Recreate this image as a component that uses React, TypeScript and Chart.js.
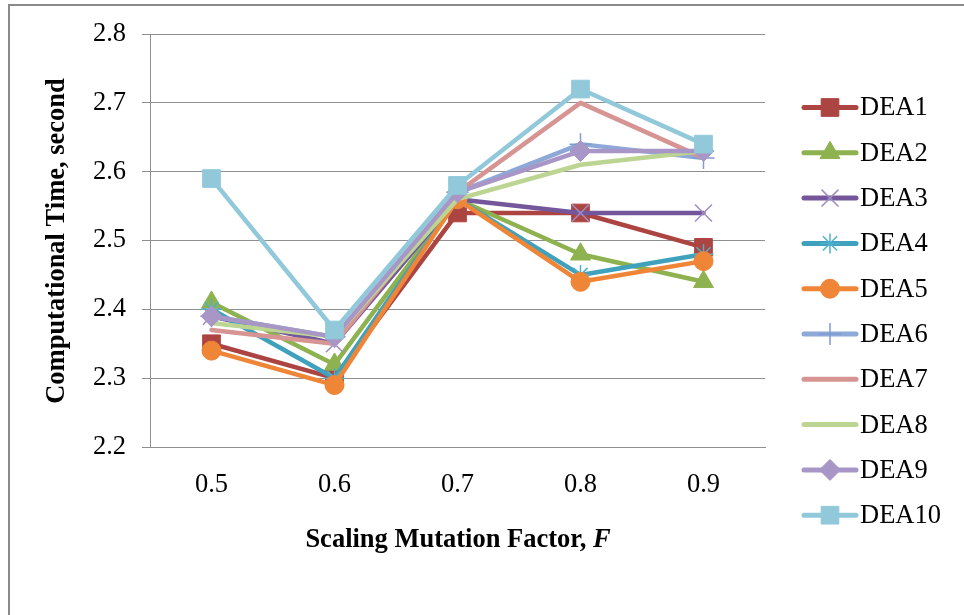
import React, { useEffect, useRef } from 'react';
import { Chart, registerables } from 'chart.js';
import { drawPoint } from 'chart.js/helpers';

Chart.register(...registerables);

// Scaling mutation factor F on the x axis
const factors = ['0.5', '0.6', '0.7', '0.8', '0.9'];

// Computational time (seconds) for each algorithm variant
const dea1 = [2.35, 2.30, 2.54, 2.54, 2.49];
const dea2 = [2.41, 2.32, 2.56, 2.48, 2.44];
const dea3 = [2.39, 2.35, 2.56, 2.54, 2.54];
const dea4 = [2.40, 2.30, 2.56, 2.45, 2.48];
const dea5 = [2.34, 2.29, 2.56, 2.44, 2.47];
const dea6 = [2.39, 2.36, 2.57, 2.64, 2.62];
const dea7 = [2.37, 2.35, 2.57, 2.70, 2.62];
const dea8 = [2.38, 2.36, 2.56, 2.61, 2.63];
const dea9 = [2.39, 2.36, 2.57, 2.63, 2.63];
const dea10 = [2.59, 2.37, 2.58, 2.72, 2.64];

const seriesNames = ['DEA1', 'DEA2', 'DEA3', 'DEA4', 'DEA5', 'DEA6', 'DEA7', 'DEA8', 'DEA9', 'DEA10'];
const seriesValues = [dea1, dea2, dea3, dea4, dea5, dea6, dea7, dea8, dea9, dea10];

// Y axis range and step
const yMin = 2.2;
const yMax = 2.8;
const yStep = 0.1;

const SERIF = "'Liberation Serif', 'Times New Roman', serif";

const lineColors = ['#AC4441', '#8DB24F', '#73579A', '#3FA1BC', '#EF8537', '#8EA9D8', '#D69493', '#BDD592', '#A897C6', '#91C9DB'];
const markerShapes: (string | false)[] = ['rect', 'triangle', 'crossRot', 'star', 'circle', 'cross', false, false, 'rectRot', 'rect'];
const markerRadii = [12.5, 11.5, 12, 10, 9.5, 11, 0, 0, 10.5, 12.5];
const markerStroke = ['#AC4441', '#8DB24F', '#A08CC4', '#4FB0CC', '#EF8537', '#7F9CD2', '#D69493', '#BDD592', '#A897C6', '#91C9DB'];
const thinMarker = [false, false, true, true, false, true, false, false, false, false];

const chartLeft = 150;
const chartRight = 765;
const chartTop = 34;
const chartBottom = 447;
const W = 964;
const H = 615;

const decorPlugin = {
  id: 'decor',
  beforeDraw(chart: any) {
    const ctx = chart.ctx;
    ctx.save();
    ctx.fillStyle = '#ffffff';
    ctx.fillRect(0, 0, W, H);
    // outer frame (top and left edges)
    ctx.strokeStyle = '#8a8a8a';
    ctx.lineWidth = 2;
    ctx.beginPath();
    ctx.moveTo(9, H);
    ctx.lineTo(9, 5);
    ctx.lineTo(W, 5);
    ctx.stroke();
    ctx.restore();
  },
  afterDraw(chart: any) {
    const ctx = chart.ctx;
    ctx.save();
    ctx.fillStyle = '#000000';

    // y axis title
    ctx.font = `bold 26.5px ${SERIF}`;
    ctx.textAlign = 'center';
    ctx.textBaseline = 'middle';
    ctx.save();
    ctx.translate(57, 241);
    ctx.rotate(-Math.PI / 2);
    ctx.fillText('Computational Time, second', 0, 0);
    ctx.restore();

    // x axis title with italic F
    const partA = 'Scaling Mutation Factor, ';
    const partB = 'F';
    ctx.font = `bold 26.5px ${SERIF}`;
    const wA = ctx.measureText(partA).width;
    ctx.font = `italic bold 26.5px ${SERIF}`;
    const wB = ctx.measureText(partB).width;
    const startX = 458 - (wA + wB) / 2;
    ctx.textAlign = 'left';
    ctx.textBaseline = 'alphabetic';
    ctx.font = `bold 26.5px ${SERIF}`;
    ctx.fillText(partA, startX, 547);
    ctx.font = `italic bold 26.5px ${SERIF}`;
    ctx.fillText(partB, startX + wA, 547);

    // legend
    seriesNames.forEach((name, i) => {
      const y = 107.5 + i * 45.3;
      ctx.strokeStyle = lineColors[i];
      ctx.lineWidth = 5;
      ctx.lineCap = 'round';
      ctx.beginPath();
      ctx.moveTo(804, y);
      ctx.lineTo(856, y);
      ctx.stroke();
      const shape = markerShapes[i];
      if (shape) {
        ctx.fillStyle = lineColors[i];
        ctx.strokeStyle = markerStroke[i];
        ctx.lineWidth = thinMarker[i] ? 1.5 : 1;
        ctx.lineCap = 'butt';
        drawPoint(ctx, { pointStyle: shape, radius: markerRadii[i], rotation: 0, borderWidth: ctx.lineWidth }, 830, y);
      }
      ctx.fillStyle = '#000000';
      ctx.font = `26.5px ${SERIF}`;
      ctx.textAlign = 'left';
      ctx.textBaseline = 'middle';
      ctx.fillText(name, 860, y + 1);
    });
    ctx.restore();
  },
};

export default function App() {
  const canvasRef = useRef<HTMLCanvasElement | null>(null);

  useEffect(() => {
    const canvas = canvasRef.current;
    if (!canvas) return;
    const datasets = seriesNames.map((name, i) => ({
      label: name,
      data: seriesValues[i],
      borderColor: lineColors[i],
      backgroundColor: lineColors[i],
      borderWidth: 4.5,
      borderCapStyle: 'round' as const,
      borderJoinStyle: 'round' as const,
      tension: 0,
      fill: false,
      pointStyle: markerShapes[i] || 'circle',
      pointRadius: markerRadii[i],
      pointHoverRadius: markerRadii[i],
      pointBackgroundColor: lineColors[i],
      pointBorderColor: markerStroke[i],
      pointBorderWidth: thinMarker[i] ? 1.5 : 1,
      order: seriesNames.length - i,
    }));

    const chart = new Chart(canvas, {
      type: 'line',
      data: { labels: factors, datasets },
      options: {
        animation: false,
        responsive: false,
        devicePixelRatio: 1,
        layout: { padding: { left: 0, top: chartTop, right: W - chartRight, bottom: 0 } },
        plugins: {
          legend: { display: false },
          tooltip: { enabled: false },
          title: { display: false },
        },
        scales: {
          x: {
            type: 'category',
            offset: true,
            grid: { display: false, drawTicks: false },
            border: { display: true, color: '#8f8f8f', width: 1 },
            ticks: {
              color: '#000000',
              padding: 22,
              font: { family: SERIF, size: 26.5 },
              maxRotation: 0,
              autoSkip: false,
            },
            afterFit(scale: any) {
              scale.height = H - chartBottom;
            },
          },
          y: {
            min: yMin,
            max: yMax,
            grid: { color: '#8f8f8f', lineWidth: 1, tickLength: 8, drawTicks: true },
            border: { display: true, color: '#8f8f8f', width: 1 },
            ticks: {
              stepSize: yStep,
              color: '#000000',
              padding: 16,
              font: { family: SERIF, size: 26.5 },
              callback: (v: any) => Number(v).toFixed(1),
            },
            afterFit(scale: any) {
              scale.width = chartLeft;
            },
          },
        },
      },
      plugins: [decorPlugin],
    });

    return () => chart.destroy();
  }, []);

  return (
    <div style={{ position: 'fixed', left: 0, top: 0, width: W, height: H, background: '#ffffff', overflow: 'hidden' }}>
      <canvas ref={canvasRef} width={W} height={H} style={{ width: W, height: H, display: 'block' }} />
    </div>
  );
}
